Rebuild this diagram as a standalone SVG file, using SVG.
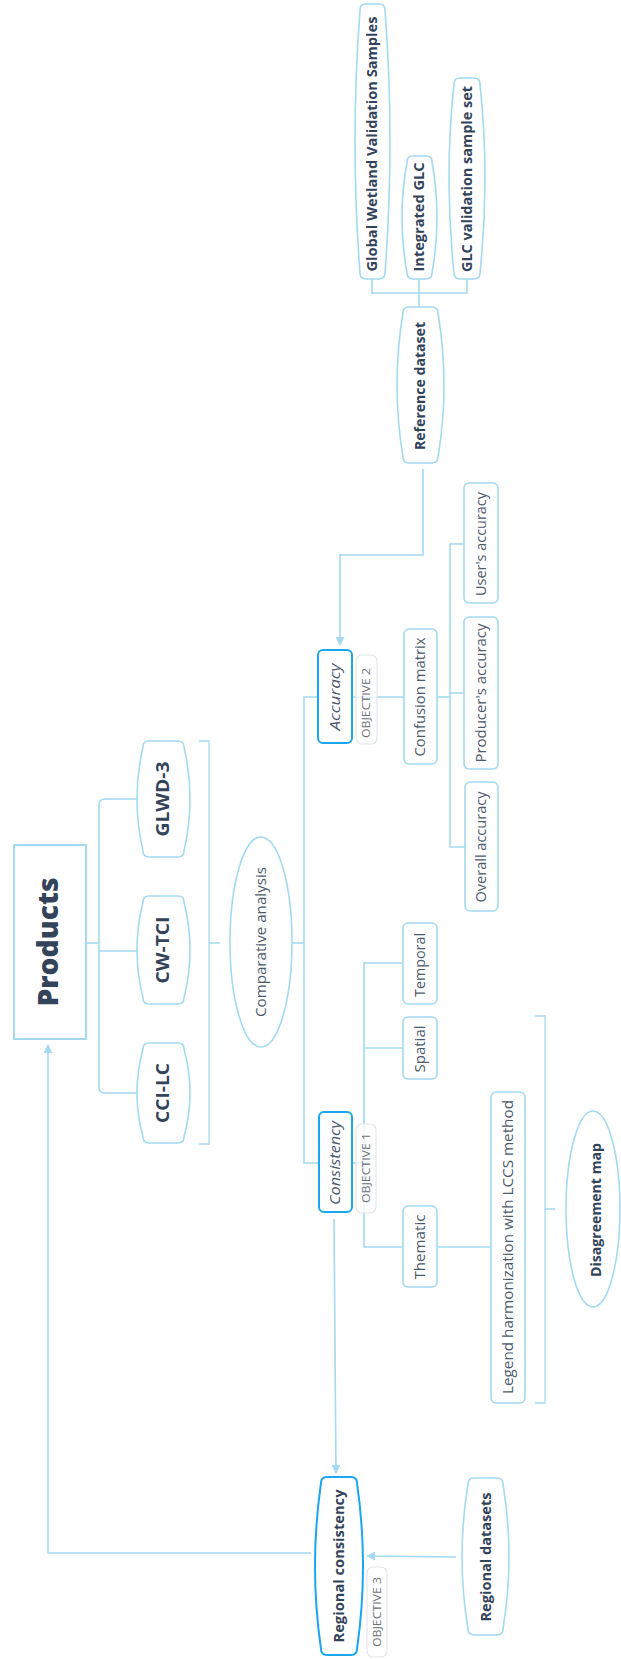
<svg xmlns="http://www.w3.org/2000/svg" width="621" height="1659" viewBox="0 0 621 1659">
<defs>
<style>
.ln{fill:none;stroke:#a3daf1;stroke-width:1.6}
.br{fill:none;stroke:#a3daf1;stroke-width:1.3}
.nd{fill:#fff;stroke:#a3daf1;stroke-width:1.6}
.hi{fill:#fff;stroke:#1ba6f2;stroke-width:2}
.ob{fill:#fff;fill-opacity:0.75;stroke:#e3e6e8;stroke-width:1.2}
text{font-family:"Open Sans","Liberation Sans",sans-serif;text-anchor:middle}
.t{font-size:14px;fill:#4c5a6b}
.ti{font-size:14px;fill:#4c5a6b;font-style:italic}
.tb{font-size:14px;font-weight:700;fill:#33435a}
.tp{font-size:17px;font-weight:700;fill:#33435a}
.tt{font-size:28px;font-weight:800;fill:#33435a}
.to{font-size:10.5px;fill:#6a6f75}
</style>
<marker id="ar" viewBox="0 0 10 10" refX="9" refY="5" markerWidth="9" markerHeight="9" markerUnits="userSpaceOnUse" orient="auto">
<path d="M0,0 L10,5 L0,10 Z" fill="#a3daf1"/>
</marker>
</defs>
<rect width="621" height="1659" fill="#fff"/>
<g id="connectors">
<path class="ln" d="M86,943 H99"/>
<path class="ln" d="M137,799 H105 Q99,799 99,805 V1087 Q99,1093 105,1093 H137"/>
<path class="ln" d="M99,951 H137"/>
<path class="br" d="M199,741 H209 V1144 H199 M209,943 H220"/>
<path class="ln" d="M292,943 H304"/>
<path class="ln" d="M318,697 H304 V1163 H319"/>
<path class="ln" d="M352,697 H404"/>
<path class="ln" d="M437,697 H450"/>
<path class="ln" d="M464,544 H450 V847 H465"/>
<path class="ln" d="M450,693 H464"/>
<path class="ln" d="M423,469 V555 H340 V645" marker-end="url(#ar)"/>
<path class="ln" d="M419,307 V293 M372,279 V293 H467 V279 M419,293 V279"/>
<path class="ln" d="M352,1163 H364"/>
<path class="ln" d="M403,963 H364 V1247 H403"/>
<path class="ln" d="M364,1048 H403"/>
<path class="ln" d="M437,1247 H491"/>
<path class="br" d="M535,1016 H545 V1403 H535 M545,1209 H555"/>
<path class="ln" d="M334,1219 L336,1473" marker-end="url(#ar)"/>
<path class="ln" d="M456,1557 L367,1556" marker-end="url(#ar)"/>
<path class="ln" d="M311,1553 H48 V1045" marker-end="url(#ar)"/>
</g>
<g id="products">
<rect x="14" y="845" width="72" height="194" fill="#fff" stroke="#a3daf1" stroke-width="2"/>
<text class="tt" transform="translate(48,942) rotate(-90)" dy="0.35em" textLength="129" lengthAdjust="spacingAndGlyphs">Products</text>
</g>
<g id="cci-lc">
<path class="nd" d="M149,1043 H178 Q184,1043 184,1049 Q196,1093 184,1137 Q184,1143 178,1143 H149 Q143,1143 143,1137 Q131,1093 143,1049 Q143,1043 149,1043 Z"/>
<text class="tp" transform="translate(163,1093) rotate(-90)" dy="0.35em" textLength="60" lengthAdjust="spacingAndGlyphs">CCI-LC</text>
</g>
<g id="cw-tci">
<path class="nd" d="M149,896 H178 Q184,896 184,902 Q196,950 184,998 Q184,1004 178,1004 H149 Q143,1004 143,998 Q131,950 143,902 Q143,896 149,896 Z"/>
<text class="tp" transform="translate(163,950) rotate(-90)" dy="0.35em" textLength="67" lengthAdjust="spacingAndGlyphs">CW-TCI</text>
</g>
<g id="glwd-3">
<path class="nd" d="M149,741 H178 Q184,741 184,747 Q196,799 184,851 Q184,857 178,857 H149 Q143,857 143,851 Q131,799 143,747 Q143,741 149,741 Z"/>
<text class="tp" transform="translate(163,799) rotate(-90)" dy="0.35em" textLength="75" lengthAdjust="spacingAndGlyphs">GLWD-3</text>
</g>
<g id="comparative">
<ellipse class="nd" cx="261" cy="942" rx="31" ry="105"/>
<text class="t" transform="translate(261,942) rotate(-90)" dy="0.35em" textLength="150" lengthAdjust="spacingAndGlyphs">Comparative analysis</text>
</g>
<g id="accuracy">
<rect class="hi" x="318" y="650" width="34" height="93" rx="5"/>
<text class="ti" transform="translate(335,697) rotate(-90)" dy="0.35em" textLength="67" lengthAdjust="spacingAndGlyphs">Accuracy</text>
<rect class="ob" x="356" y="655" width="21" height="89" rx="6"/>
<text class="to" transform="translate(366.5,703) rotate(-90)" dy="0.35em" textLength="70" lengthAdjust="spacingAndGlyphs">OBJECTIVE 2</text>
</g>
<g id="confusion">
<rect class="nd" x="404" y="629" width="33" height="135" rx="5"/>
<text class="t" transform="translate(420.5,697) rotate(-90)" dy="0.35em" textLength="119" lengthAdjust="spacingAndGlyphs">Confusion matrix</text>
</g>
<g id="users">
<rect class="nd" x="464" y="483" width="34" height="120" rx="5"/>
<text class="t" transform="translate(481,544) rotate(-90)" dy="0.35em" textLength="104" lengthAdjust="spacingAndGlyphs">User's accuracy</text>
</g>
<g id="producers">
<rect class="nd" x="464" y="617" width="34" height="152" rx="5"/>
<text class="t" transform="translate(481,693) rotate(-90)" dy="0.35em" textLength="139" lengthAdjust="spacingAndGlyphs">Producer's accuracy</text>
</g>
<g id="overall">
<rect class="nd" x="465" y="782" width="33" height="129" rx="5"/>
<text class="t" transform="translate(481.5,847) rotate(-90)" dy="0.35em" textLength="111" lengthAdjust="spacingAndGlyphs">Overall accuracy</text>
</g>
<g id="reference">
<path class="nd" d="M409,307 H432 Q438,307 438,313 Q450,385 438,457 Q438,463 432,463 H409 Q403,463 403,457 Q391,385 403,313 Q403,307 409,307 Z"/>
<text class="tb" transform="translate(420.5,386) rotate(-90)" dy="0.35em" textLength="128" lengthAdjust="spacingAndGlyphs">Reference dataset</text>
</g>
<g id="global-wetland">
<path class="nd" d="M366,4 H379 Q385,4 385,10 Q395,141.5 385,273 Q385,279 379,279 H366 Q360,279 360,273 Q350,141.5 360,10 Q360,4 366,4 Z"/>
<text class="tb" transform="translate(372.5,144) rotate(-90)" dy="0.35em" textLength="255" lengthAdjust="spacingAndGlyphs">Global Wetland Validation Samples</text>
</g>
<g id="integrated-glc">
<path class="nd" d="M413,156 H426 Q432,156 432,162 Q442,217.5 432,273 Q432,279 426,279 H413 Q407,279 407,273 Q397,217.5 407,162 Q407,156 413,156 Z"/>
<text class="tb" transform="translate(419.5,217) rotate(-90)" dy="0.35em" textLength="109" lengthAdjust="spacingAndGlyphs">Integrated GLC</text>
</g>
<g id="glc-validation">
<path class="nd" d="M460,78 H474 Q480,78 480,84 Q490,178.5 480,273 Q480,279 474,279 H460 Q454,279 454,273 Q444,178.5 454,84 Q454,78 460,78 Z"/>
<text class="tb" transform="translate(467,179) rotate(-90)" dy="0.35em" textLength="186" lengthAdjust="spacingAndGlyphs">GLC validation sample set</text>
</g>
<g id="consistency">
<rect class="hi" x="319" y="1112" width="33" height="100" rx="5"/>
<text class="ti" transform="translate(335.5,1163) rotate(-90)" dy="0.35em" textLength="84" lengthAdjust="spacingAndGlyphs">Consistency</text>
<rect class="ob" x="356" y="1124" width="20" height="89" rx="6"/>
<text class="to" transform="translate(366,1168) rotate(-90)" dy="0.35em" textLength="70" lengthAdjust="spacingAndGlyphs">OBJECTIVE 1</text>
</g>
<g id="temporal">
<rect class="nd" x="403" y="923" width="34" height="81" rx="5"/>
<text class="t" transform="translate(420,965) rotate(-90)" dy="0.35em" textLength="64" lengthAdjust="spacingAndGlyphs">Temporal</text>
</g>
<g id="spatial">
<rect class="nd" x="403" y="1017" width="34" height="62" rx="5"/>
<text class="t" transform="translate(420,1049) rotate(-90)" dy="0.35em" textLength="47" lengthAdjust="spacingAndGlyphs">Spatial</text>
</g>
<g id="thematic">
<rect class="nd" x="403" y="1206" width="34" height="81" rx="5"/>
<text class="t" transform="translate(420,1247) rotate(-90)" dy="0.35em" textLength="65" lengthAdjust="spacingAndGlyphs">Thematic</text>
</g>
<g id="legend">
<rect class="nd" x="491" y="1092" width="34" height="311" rx="5"/>
<text class="t" transform="translate(508,1247) rotate(-90)" dy="0.35em" textLength="294" lengthAdjust="spacingAndGlyphs">Legend harmonization with LCCS method</text>
</g>
<g id="disagreement">
<ellipse class="nd" cx="593" cy="1209" rx="27" ry="98"/>
<text class="tb" transform="translate(596,1210) rotate(-90)" dy="0.35em" textLength="134" lengthAdjust="spacingAndGlyphs">Disagreement map</text>
</g>
<g id="regional-consistency">
<path class="hi" d="M327,1477 H351 Q357,1477 357,1483 Q369,1566 357,1649 Q357,1655 351,1655 H327 Q321,1655 321,1649 Q309,1566 321,1483 Q321,1477 327,1477 Z"/>
<text class="tb" transform="translate(339,1566) rotate(-90)" dy="0.35em" textLength="153" lengthAdjust="spacingAndGlyphs">Regional consistency</text>
<rect class="ob" x="367" y="1567" width="20" height="90" rx="6"/>
<text class="to" transform="translate(377,1612) rotate(-90)" dy="0.35em" textLength="70" lengthAdjust="spacingAndGlyphs">OBJECTIVE 3</text>
</g>
<g id="regional-datasets">
<path class="nd" d="M474,1478 H497 Q503,1478 503,1484 Q515,1556.5 503,1629 Q503,1635 497,1635 H474 Q468,1635 468,1629 Q456,1556.5 468,1484 Q468,1478 474,1478 Z"/>
<text class="tb" transform="translate(486,1557) rotate(-90)" dy="0.35em" textLength="129" lengthAdjust="spacingAndGlyphs">Regional datasets</text>
</g>
</svg>
